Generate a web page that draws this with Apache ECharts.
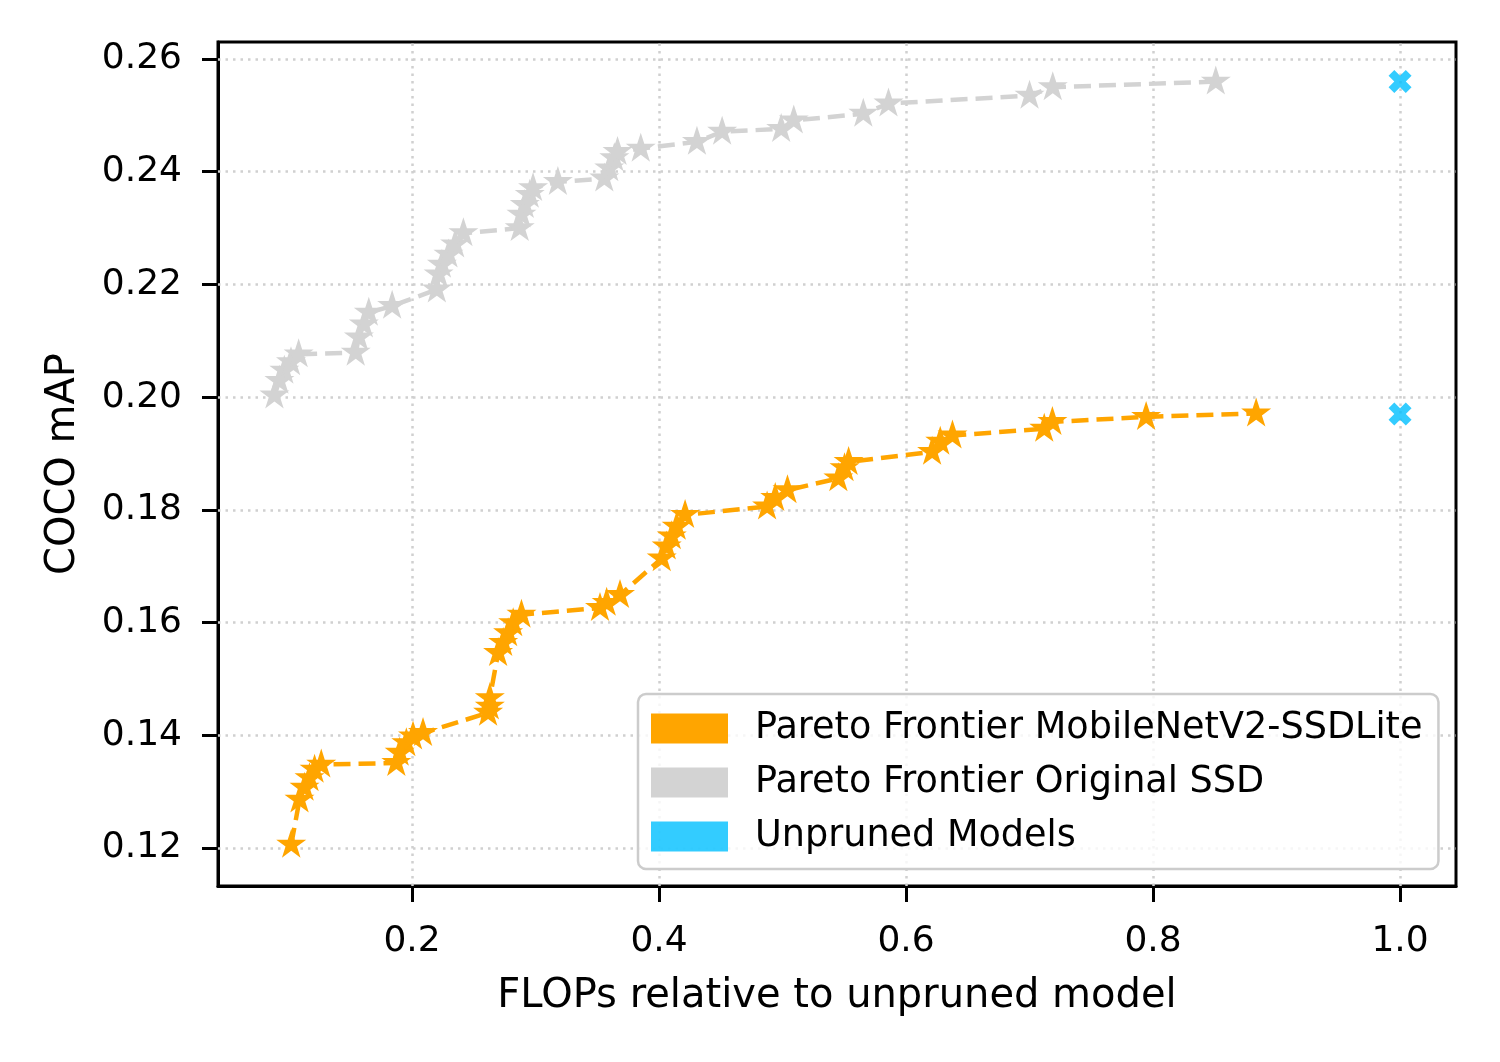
<!DOCTYPE html>
<html>
<head>
<meta charset="utf-8">
<script src="https://cdn.jsdelivr.net/npm/echarts@6/dist/echarts.min.js"></script>
<style>
html,body{margin:0;padding:0;background:#fff;}
#chart{width:1500px;height:1062px;}
</style>
</head>
<body>
<div id="chart"></div>
<script>
// ---- data ----
const mobilenetFlops = [0.1022,0.1089,0.113,0.117,0.1211,0.1265,0.1873,0.19,0.1954,0.2008,0.2089,0.2616,0.263,0.263,0.2697,0.2738,0.2778,0.2819,0.2886,0.3522,0.3576,0.3684,0.4022,0.4062,0.4103,0.4143,0.4211,0.4875,0.4941,0.504,0.5452,0.5502,0.5535,0.6211,0.6277,0.6376,0.7119,0.7185,0.7944,0.8835];
const mobilenetMap   = [0.1206,0.1286,0.1307,0.1324,0.1339,0.1348,0.1351,0.1369,0.1386,0.1398,0.1404,0.144,0.1451,0.1466,0.1546,0.1564,0.1581,0.1599,0.1614,0.1626,0.1635,0.1649,0.1714,0.1735,0.1753,0.177,0.1791,0.1806,0.1821,0.1835,0.1856,0.1874,0.1885,0.1903,0.1921,0.1932,0.1944,0.1956,0.1965,0.1971];
const ssdFlops = [0.0886,0.0926,0.0966,0.102,0.1082,0.1544,0.157,0.161,0.165,0.1839,0.2201,0.2215,0.2242,0.2295,0.2349,0.2416,0.2872,0.2886,0.2913,0.2953,0.298,0.3181,0.3557,0.3597,0.3638,0.3664,0.3852,0.4307,0.4511,0.4989,0.5091,0.5654,0.5858,0.700,0.7188,0.8508];
const ssdMap   = [0.2003,0.2029,0.2047,0.2062,0.2076,0.2079,0.2106,0.2129,0.215,0.2162,0.2191,0.2218,0.2235,0.2253,0.2271,0.2291,0.23,0.2324,0.2341,0.2359,0.2371,0.2382,0.2388,0.2406,0.2424,0.2435,0.2441,0.2453,0.2471,0.2476,0.2491,0.2503,0.2521,0.2535,0.255,0.256];
const unprunedFlops = [1.0, 1.0];
const unprunedMap   = [0.256, 0.197];
const xTicks = [0.2, 0.4, 0.6, 0.8, 1.0];
const yTicks = [0.12, 0.14, 0.16, 0.18, 0.20, 0.22, 0.24, 0.26];
const seriesNames = ['Pareto Frontier MobileNetV2-SSDLite', 'Pareto Frontier Original SSD', 'Unpruned Models'];
const xName = 'FLOPs relative to unpruned model';
const yName = 'COCO mAP';

// ---- styling ----
const FONT = 'DejaVu Sans';
const STAR = 'path://M50 0 L61.23 34.55 L97.55 34.55 L68.17 55.9 L79.39 90.45 L50 69.1 L20.61 90.45 L31.83 55.9 L2.45 34.55 L38.77 34.55 Z';
const XMARK = 'path://M25 0 L50 25 L75 0 L100 25 L75 50 L100 75 L75 100 L50 75 L25 100 L0 75 L25 50 L0 25 Z';
const zip = (a, b) => a.map((v, i) => [v, b[i]]);

const chart = echarts.init(document.getElementById('chart'), null, {renderer: 'canvas'});
const gridLine = {color: '#d0d0d0', width: 2.5, type: [2.5, 5]};

chart.setOption({
  backgroundColor: '#fff',
  animation: false,
  textStyle: {fontFamily: FONT},
  grid: {left: 218, top: 42, width: 1238, height: 844, containLabel: false, show: true,
         borderColor: '#000', borderWidth: 3, backgroundColor: 'transparent'},
  xAxis: {
    type: 'value', min: 0.0429, max: 1.0453,
    name: xName, nameLocation: 'middle', nameGap: 91,
    nameTextStyle: {fontFamily: FONT, fontSize: 40, color: '#000'},
    axisLine: {show: true, onZero: false, lineStyle: {color: '#000', width: 3}},
    axisTick: {show: true, inside: false, length: 16, lineStyle: {color: '#000', width: 3}, customValues: xTicks},
    axisLabel: {show: true, margin: 38, fontFamily: FONT, fontSize: 36, color: '#000', customValues: xTicks, formatter: v => Number(v).toFixed(1)},
    splitLine: {show: false}
  },
  yAxis: {
    type: 'value', min: 0.11326, max: 0.26302,
    name: yName, nameLocation: 'middle', nameGap: 134, nameRotate: 90,
    nameTextStyle: {fontFamily: FONT, fontSize: 40, color: '#000'},
    axisLine: {show: true, onZero: false, lineStyle: {color: '#000', width: 3}},
    axisTick: {show: true, inside: false, length: 16, lineStyle: {color: '#000', width: 3}, customValues: yTicks},
    axisLabel: {show: true, margin: 36, fontFamily: FONT, fontSize: 36, color: '#000', customValues: yTicks, formatter: v => Number(v).toFixed(2)},
    splitLine: {show: false}
  },
  legend: {
    orient: 'vertical', left: 638, top: 694, z: 20,
    padding: [16, 16, 14, 13],
    itemGap: 17, itemWidth: 77, itemHeight: 30,
    backgroundColor: 'rgba(255,255,255,0.8)',
    borderColor: '#cccccc', borderWidth: 2.5, borderRadius: 8,
    textStyle: {fontFamily: FONT, fontSize: 36.6, color: '#000', padding: [0, 0, 0, 22]},
    itemStyle: {borderWidth: 0},
    data: seriesNames.map(n => ({name: n, icon: 'rect'})),
    selectedMode: false
  },
  series: [
    {
      type: 'line', name: '_grid', data: [], z: 1, silent: true,
      markLine: {
        silent: true, symbol: 'none', animation: false, z: 1,
        label: {show: false},
        lineStyle: gridLine,
        emphasis: {disabled: true},
        data: xTicks.map(v => ({xAxis: v})).concat(yTicks.map(v => ({yAxis: v})))
      }
    },
    {
      type: 'line', name: seriesNames[0], data: zip(mobilenetFlops, mobilenetMap), z: 3,
      color: '#FFA500',
      lineStyle: {color: '#FFA500', width: 4.5, type: [17, 8]},
      itemStyle: {color: '#FFA500'},
      symbol: STAR, symbolSize: [30, 29], symbolOffset: [0, -1.5], showAllSymbol: true
    },
    {
      type: 'line', name: seriesNames[1], data: zip(ssdFlops, ssdMap), z: 3,
      color: '#D3D3D3',
      lineStyle: {color: '#D3D3D3', width: 4.5, type: [17, 8]},
      itemStyle: {color: '#D3D3D3'},
      symbol: STAR, symbolSize: [30, 29], symbolOffset: [0, -1.5], showAllSymbol: true
    },
    {
      type: 'scatter', name: seriesNames[2], data: zip(unprunedFlops, unprunedMap), z: 4,
      color: '#00BFFF',
      itemStyle: {color: '#00BFFF'},
      symbol: XMARK, symbolSize: 23
    }
  ]
});
</script>
</body>
</html>
